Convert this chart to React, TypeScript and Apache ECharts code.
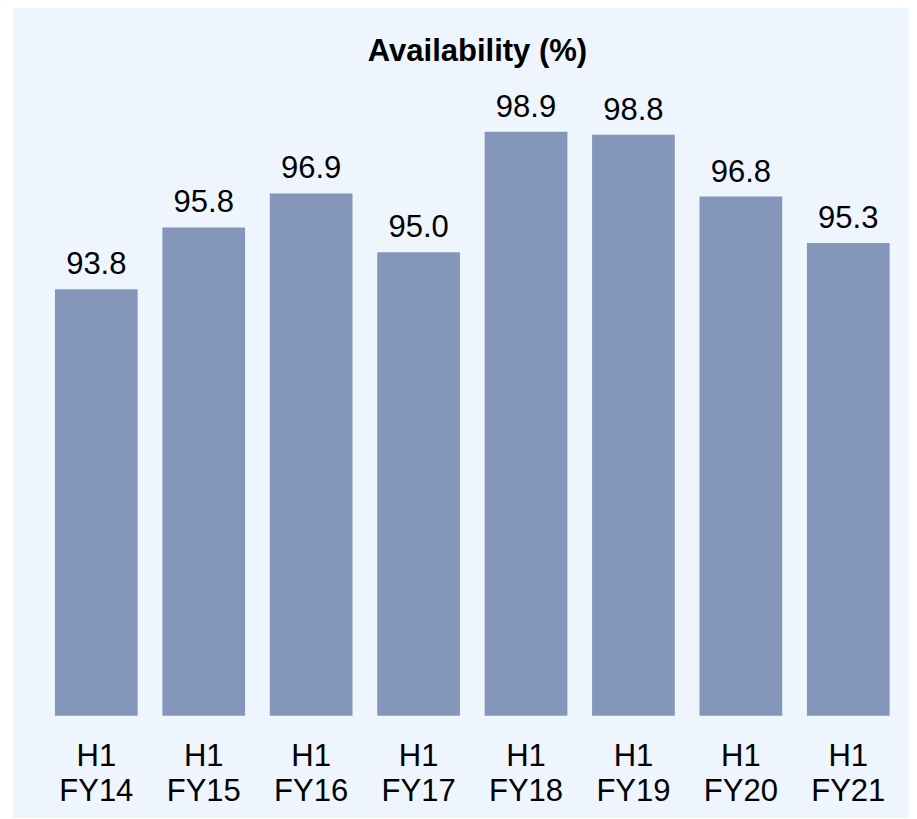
import React, { useEffect, useRef } from "react";
import * as echarts from "echarts";

const categories = ["H1\nFY14", "H1\nFY15", "H1\nFY16", "H1\nFY17", "H1\nFY18", "H1\nFY19", "H1\nFY20", "H1\nFY21"];
const availability = [93.8, 95.8, 96.9, 95.0, 98.9, 98.8, 96.8, 95.3];
const titleText = "Availability (%)";

const FONT = "'Liberation Sans', Arial, Helvetica, sans-serif";

export default function App() {
  const ref = useRef<HTMLDivElement>(null);
  useEffect(() => {
    if (!ref.current) return;
    const chart = echarts.init(ref.current, null, { renderer: "svg" });
    chart.setOption({
      animation: false,
      backgroundColor: "#EEF5FC",
      title: {
        text: titleText,
        left: 459.5,
        top: 22,
        textAlign: "center",
        textStyle: { fontFamily: FONT, fontWeight: "bold", fontSize: 31, color: "#000" },
      },
      grid: { left: 29.6, right: 15, top: 89.7, bottom: 102.3, containLabel: false },
      xAxis: {
        type: "category",
        data: categories,
        axisLine: { show: false },
        axisTick: { show: false },
        axisLabel: {
          interval: 0,
          margin: 22,
          fontFamily: FONT,
          fontSize: 31,
          lineHeight: 35,
          color: "#000",
        },
      },
      yAxis: {
        type: "value",
        min: 80,
        max: 100,
        show: false,
        splitLine: { show: false },
      },
      series: [
        {
          type: "bar",
          data: availability,
          barWidth: "77%",
          itemStyle: { color: "#8496B9" },
          label: {
            show: true,
            position: "top",
            distance: 10,
            formatter: (p: any) => Number(p.value).toFixed(1),
            fontFamily: FONT,
            fontSize: 31,
            color: "#000",
          },
        },
      ],
    });
    return () => chart.dispose();
  }, []);
  return <div ref={ref} style={{ width: 904, height: 810, marginLeft: 5 }} />;
}
